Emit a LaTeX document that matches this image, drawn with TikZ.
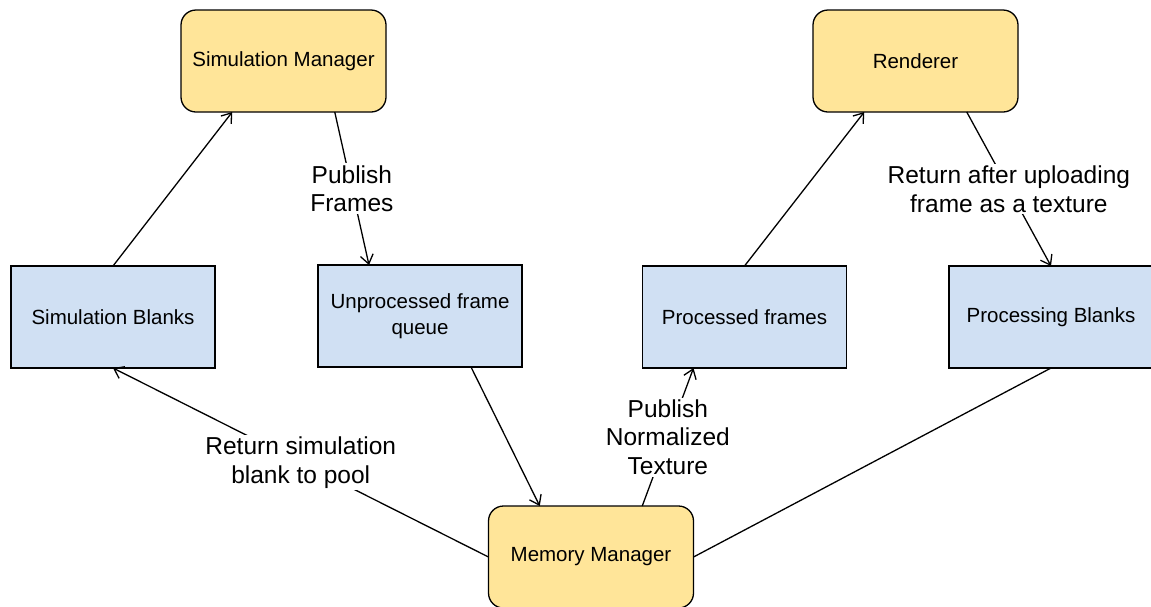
\documentclass[tikz,border=0pt]{standalone}
\usepackage{fontspec}
\setmainfont{Liberation Sans}
\usetikzlibrary{arrows.meta,calc}
\definecolor{mgrfill}{HTML}{FFE599}
\definecolor{queuefill}{HTML}{D0E0F3}
\begin{document}
\begin{tikzpicture}[x=1pt,y=-1pt,
  mgr/.style={draw, line width=1.3pt, rounded corners=15pt, fill=mgrfill,
    minimum width=205pt, minimum height=102pt, inner sep=0pt, outer sep=0pt,
    align=center, font=\fontsize{20.5}{26}\selectfont},
  queue/.style={draw, line width=1.3pt, fill=queuefill,
    minimum width=204pt, minimum height=102pt, inner sep=0pt, outer sep=0pt,
    align=center, font=\fontsize{20.5}{26}\selectfont},
  conn/.style={line width=1.3pt},
  arr/.style={conn, -{Straight Barb[length=9pt,width=13pt,line width=1.3pt]}},
  lbl/.style={fill=white, inner sep=2pt, align=center, font=\fontsize{24.5}{28.5}\selectfont}]
\fill[white] (0,0) rectangle (1151,606);
\useasboundingbox (0,0) rectangle (1151,606);

\node[mgr] (sm) at (283.5,61) {Simulation Manager};
\node[mgr] (rd) at (915.5,61) {Renderer};
\node[queue] (sb) at (113,317) {Simulation Blanks};
\node[queue] (uq) at (420,316) {Unprocessed frame\\queue};
\node[queue] (pf) at (744.5,317) {Processed frames};
\node[queue] (pb) at (1051,317) {Processing Blanks};
\node[mgr] (mm) at (591,557) {Memory Manager};

% Simulation Blanks -> Simulation Manager
\draw[arr] (sb.north) -- ($(sm.south)!0.5!(sm.south west)$);
% Simulation Manager -> Unprocessed queue
\draw[arr] ($(sm.south)!0.5!(sm.south east)$) -- node[lbl] (l1) {Publish\\Frames} ($(uq.north)!0.5!(uq.north west)$);
% Unprocessed queue -> Memory Manager
\draw[arr] ($(uq.south)!0.5!(uq.south east)$) -- ($(mm.north)!0.5!(mm.north west)$);
% Memory Manager -> Processed frames
\draw[arr] ($(mm.north)!0.5!(mm.north east)$) -- node[lbl] (l2) {Publish\\Normalized\\Texture} ($(pf.south)!0.5!(pf.south west)$);
% Processed frames -> Renderer
\draw[arr] (pf.north) -- ($(rd.south)!0.5!(rd.south west)$);
% Renderer -> Processing Blanks
\draw[arr] ($(rd.south)!0.5!(rd.south east)$) -- node[lbl] (l3) {Return after uploading\\frame as a texture} (pb.north);
% Processing Blanks -- Memory Manager
\draw[conn] (pb.south) -- (mm.east);
% Memory Manager -> Simulation Blanks
\draw[arr] (mm.west) -- node[lbl] (l4) {Return simulation\\blank to pool} (sb.south);
\end{tikzpicture}
\end{document}
